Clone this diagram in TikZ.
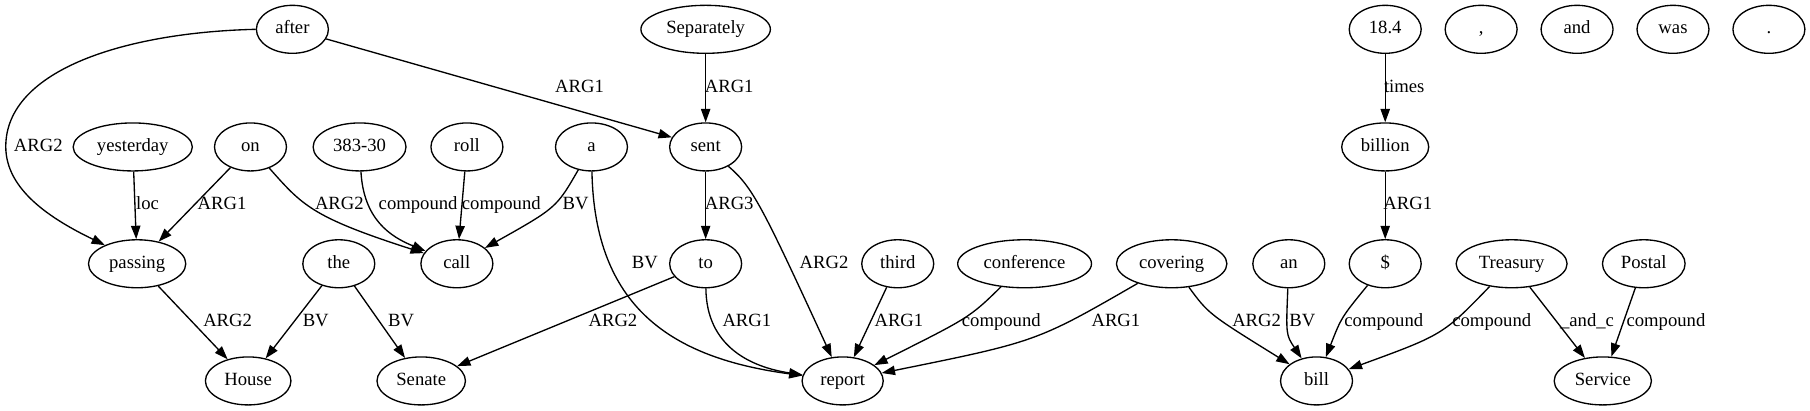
\documentclass[tikz,border=0pt]{standalone}
\usepackage{fontspec}
\setmainfont{Liberation Serif}
\usetikzlibrary{shapes.geometric,arrows.meta}
\begin{document}
\begin{tikzpicture}[x=0.866pt,y=-0.866pt,
  nd/.style={draw,ellipse,line width=1pt,minimum width=54pt,minimum height=36pt,inner xsep=4.8pt,inner ysep=1pt,text height=9.5pt,text depth=3pt,font=\fontsize{14}{16}\selectfont},
  ed/.style={draw,line width=1pt,-{Triangle[length=10pt,width=7pt]}},
  lb/.style={font=\fontsize{14}{16}\selectfont,inner sep=1pt,text height=9.5pt,text depth=3pt}]
\useasboundingbox (0,0) rectangle (1568,356);
% row 1
\node[nd] (after) at (253.3,25.4) {after};
\node[nd] (separately) at (611.3,25.4) {Separately};
\node[nd] (n184) at (1200,25.4) {18.4};
\node[nd] (comma) at (1283.1,25.4) {,};
\node[nd] (and) at (1366.2,25.4) {and};
\node[nd] (was) at (1449.3,25.4) {was};
\node[nd] (period) at (1532.4,25.4) {.};
% row 2
\node[nd] (yesterday) at (115,127.3) {yesterday};
\node[nd] (on) at (217,127.3) {on};
\node[nd] (n383) at (311.5,127.3) {383-30};
\node[nd] (roll) at (404.5,127.3) {roll};
\node[nd] (a) at (512.4,127.3) {a};
\node[nd] (sent) at (611.3,127.3) {sent};
\node[nd] (billion) at (1200,127.3) {billion};
% row 3
\node[nd] (passing) at (118.8,228.5) {passing};
\node[nd] (the) at (293.5,228.5) {the};
\node[nd] (call) at (395.8,228.5) {call};
\node[nd] (to) at (611.3,228.5) {to};
\node[nd] (third) at (777.7,228.5) {third};
\node[nd] (conference) at (887.6,228.5) {conference};
\node[nd] (covering) at (1015,228.5) {covering};
\node[nd] (an) at (1116.5,228.5) {an};
\node[nd] (dollar) at (1200,228.5) {\$};
\node[nd] (treasury) at (1309.5,228.5) {Treasury};
\node[nd] (postal) at (1424,228.5) {Postal};
% row 4
\node[nd] (house) at (215,330) {House};
\node[nd] (senate) at (364.9,330) {Senate};
\node[nd] (report) at (730,330) {report};
\node[nd] (bill) at (1140.5,330) {bill};
\node[nd] (service) at (1388.5,330) {Service};
% edges
\draw[ed] (after.west) .. controls (110,28) and (5,60) .. (5,127) .. controls (5,165) and (45,190) .. (passing.150);
\draw[ed] (after) -- (sent);
\draw[ed] (separately) -- (sent);
\draw[ed] (n184) -- (billion);
\draw[ed] (yesterday) -- (passing);
\draw[ed] (on) -- (passing);
\draw[ed] (on) .. controls (262,178) and (270,188) .. (call);
\draw[ed] (n383) .. controls (315,190) and (338,205) .. (call);
\draw[ed] (roll) -- (call);
\draw[ed] (a) .. controls (482,180) .. (call);
\draw[ed] (a) .. controls (515,265) and (580,310) .. (report);
\draw[ed] (sent) -- (to);
\draw[ed] (sent) .. controls (652,162) and (660,178) .. (report);
\draw[ed] (billion) -- (dollar);
\draw[ed] (passing) -- (house);
\draw[ed] (the) -- (house);
\draw[ed] (the) -- (senate);
\draw[ed] (to) -- (senate);
\draw[ed] (to) .. controls (612,300) and (650,318) .. (report);
\draw[ed] (third) -- (report);
\draw[ed] (conference) .. controls (840,275) .. (report);
\draw[ed] (covering) .. controls (898,296) .. (report);
\draw[ed] (covering) .. controls (1047,272) .. (bill);
\draw[ed] (an) .. controls (1114,290) .. (bill);
\draw[ed] (dollar) .. controls (1162,275) .. (bill);
\draw[ed] (treasury) .. controls (1250,290) .. (bill);
\draw[ed] (treasury) -- (service);
\draw[ed] (postal) -- (service);
% labels
\node[lb] (l1) at (33.2,127.5) {ARG2};
\node[lb] (l2) at (502,76.5) {ARG1};
\node[lb] (l3) at (631.7,76.5) {ARG1};
\node[lb] (l4) at (1216.5,76.5) {times};
\node[lb] (l5) at (127.8,177.5) {loc};
\node[lb] (l6) at (192.4,177.5) {ARG1};
\node[lb] (l7) at (294,177.5) {ARG2};
\node[lb] (l8) at (362.2,177.5) {compound};
\node[lb] (l9) at (434.3,177.5) {compound};
\node[lb] (l10) at (498.7,177.5) {BV};
\node[lb] (l11) at (631.7,177.5) {ARG3};
\node[lb] (l12) at (1219.5,177.5) {ARG1};
\node[lb] (l13) at (558.6,228.5) {BV};
\node[lb] (l14) at (713.8,228.5) {ARG2};
\node[lb] (l15) at (197.2,279.4) {ARG2};
\node[lb] (l16) at (273.5,279.4) {BV};
\node[lb] (l17) at (347.4,279.4) {BV};
\node[lb] (l18) at (531,279.4) {ARG2};
\node[lb] (l19) at (647,279.4) {ARG1};
\node[lb] (l20) at (778.7,279.4) {ARG1};
\node[lb] (l21) at (867.4,279.4) {compound};
\node[lb] (l22) at (966.7,279.4) {ARG1};
\node[lb] (l23) at (1088.6,279.4) {ARG2};
\node[lb] (l24) at (1128.3,279.4) {BV};
\node[lb] (l25) at (1198.8,279.4) {compound};
\node[lb] (l26) at (1292.3,279.4) {compound};
\node[lb] (l27) at (1374.8,279.4) {\_and\_c};
\node[lb] (l28) at (1443.2,279.4) {compound};
\end{tikzpicture}
\end{document}
